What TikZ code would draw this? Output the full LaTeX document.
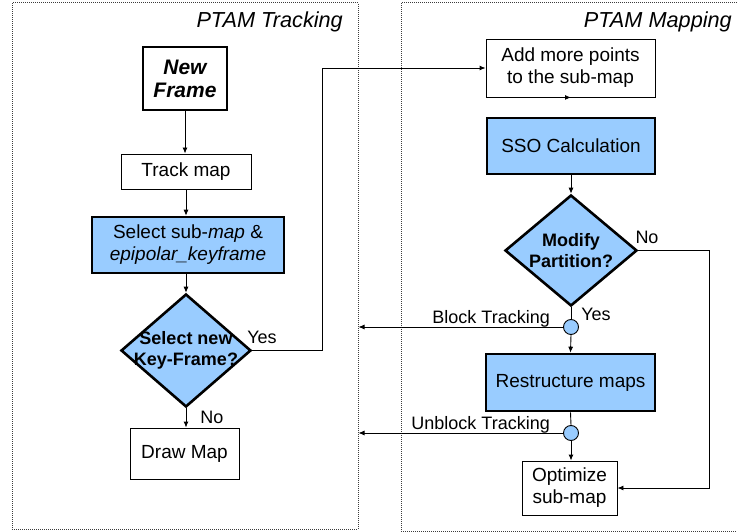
\documentclass[tikz,border=0pt]{standalone}
\usepackage{fontspec}
\setmainfont{Liberation Sans}
\usetikzlibrary{arrows.meta,shapes.geometric,calc}
\definecolor{procblue}{RGB}{153,204,255}
\definecolor{framegray}{RGB}{60,60,60}
\begin{document}
\begin{tikzpicture}[x=1pt,y=-1pt,
  every node/.style={font=\fontsize{19}{22}\selectfont},
  panel/.style={draw=framegray, densely dotted, line width=1pt, inner sep=0},
  paneltitle/.style={font=\fontsize{21.7}{24}\selectfont\itshape, inner sep=0},
  plainbox/.style={draw, line width=0.9pt, fill=white, align=center, inner sep=0},
  keybox/.style={draw, line width=2.6pt, fill=procblue, align=center, inner sep=0},
  decision/.style={diamond, draw, line width=2.6pt, fill=procblue, inner sep=0},
  dectext/.style={font=\fontsize{18}{21}\selectfont\bfseries, align=center, inner sep=0},
  junction/.style={circle, draw, line width=0.9pt, fill=procblue, minimum size=15pt, inner sep=0},
  flow/.style={line width=0.9pt, -{Latex[length=6pt,width=5pt]}},
  link/.style={line width=0.9pt},
  tag/.style={font=\fontsize{18}{20}\selectfont, inner sep=0}]

\useasboundingbox (0,0) rectangle (737,532);
\clip (0,0) rectangle (737,532);

% the two thread panels
\node[panel, minimum width=346pt, minimum height=526pt] (tracking) at (185,266) {};
\node[panel, minimum width=350pt, minimum height=528pt] (mapping) at (576,267) {};
\node[paneltitle, anchor=base east] (ttrack) at (343,28) {PTAM Tracking};
\node[paneltitle, anchor=base east] (tmap) at (732,28) {PTAM Mapping};

% tracking thread
\node[plainbox, line width=2.6pt, minimum width=84pt, minimum height=63pt,
      font=\fontsize{21}{23}\selectfont\bfseries\itshape] (newf) at (185,78.5) {New\\Frame};
\node[plainbox, minimum width=130pt, minimum height=35pt] (track) at (186,171.5) {Track map};
\node[keybox, minimum width=192pt, minimum height=56pt] (sel) at (188,245)
  {Select sub-\textit{map} \&\\\textit{epipolar\_keyframe}};
\node[decision, minimum width=130pt, minimum height=113pt] (kf) at (186,350.5) {};
\node[dectext] (kftext) at (kf) {Select new\\Key-Frame?};
\node[plainbox, minimum width=109pt, minimum height=51pt] (draw) at (184.5,453.5) {Draw Map};

% mapping thread
\node[plainbox, minimum width=169pt, minimum height=58pt] (add) at (570.5,68)
  {Add more points\\to the sub-map};
\node[keybox, minimum width=168pt, minimum height=56pt] (sso) at (571,146) {SSO Calculation};
\node[decision, minimum width=132pt, minimum height=111pt] (mp) at (571,250.5) {};
\node[dectext] (mptext) at (mp) {Modify\\Partition?};
\node[junction] (block) at (571,327) {};
\node[keybox, minimum width=169pt, minimum height=57pt] (rs) at (570.5,382.5) {Restructure maps};
\node[junction] (unblock) at (571,433) {};
\node[plainbox, minimum width=95pt, minimum height=54pt] (opt) at (569.5,488) {Optimize\\sub-map};

% tracking connectors
\draw[flow] (newf.south) -- (newf.south |- track.north);
\draw[flow] (track.south) -- (track.south |- sel.north);
\draw[flow] (kf.north |- sel.south) -- (kf.north);
\draw[flow] (kf.south) -- (kf.south |- draw.north);
\draw[flow] (kf.east) -- (322,350.5) |- (add.west);

% mapping connectors
\draw[flow] (add.south) -- (add.south -| sso.north);
\draw[flow] (sso.south) -- (mp.north);
\draw[link] (mp.south) -- (block.north);
\draw[flow] (block.south) -- (rs.north);
\draw[link] (rs.south) -- (unblock.north);
\draw[flow] (unblock.south) -- (opt.north -| unblock.south);
\draw[flow] (mp.east) -- (709,250.5) |- (opt.east);
\draw[flow] (block.west) -- (tracking.east |- block.west);
\draw[flow] (unblock.west) -- (tracking.east |- unblock.west);

% branch labels
\node[tag] (kfyes) at (262,337) {Yes};
\node[tag] (kfno) at (212,417) {No};
\node[tag] (mpno) at (647,237) {No};
\node[tag] (mpyes) at (596,314) {Yes};
\node[tag, anchor=base east] (blabel) at (550,323) {Block Tracking};
\node[tag, anchor=base east] (ulabel) at (550,429) {Unblock Tracking};
\end{tikzpicture}
\end{document}
